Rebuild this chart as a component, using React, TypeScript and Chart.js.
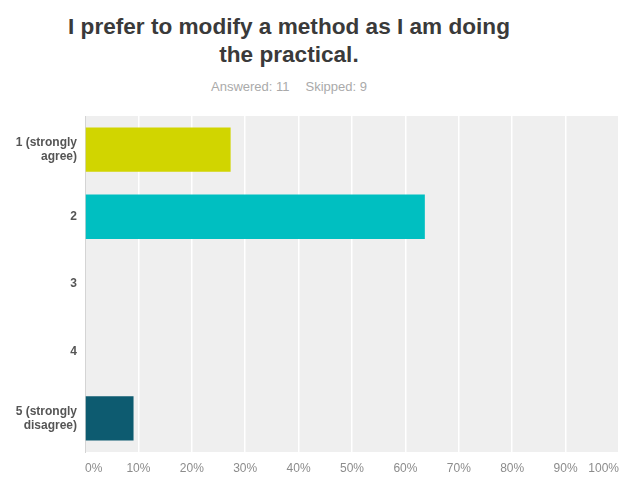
import React, { useEffect, useRef } from 'react';
import { Chart, registerables } from 'chart.js';

Chart.register(...registerables);

const titleLines = ['I prefer to modify a method as I am doing', 'the practical.'];
const answeredText = 'Answered: 11';
const skippedText = 'Skipped: 9';

const categories: (string | string[])[] = [
  ['1 (strongly', 'agree)'],
  '2',
  '3',
  '4',
  ['5 (strongly', 'disagree)'],
];
const percentages = [27.27, 63.64, 0, 0, 9.09];
const barColors = ['#d1d500', '#00bfc1', '#f7a600', '#6b9a2b', '#0d5b70'];
const xTickValues = [0, 10, 20, 30, 40, 50, 60, 70, 80, 90, 100];

const FONT = '"Liberation Sans", Arial, Helvetica, sans-serif';

const plotBackground = {
  id: 'plotBackground',
  beforeDraw(chart: any) {
    const { ctx, chartArea } = chart;
    if (!chartArea) return;
    ctx.save();
    ctx.fillStyle = '#efefef';
    ctx.fillRect(chartArea.left, chartArea.top, chartArea.right - chartArea.left, chartArea.bottom - chartArea.top);
    ctx.restore();
  },
};

export default function App() {
  const canvasRef = useRef<HTMLCanvasElement | null>(null);

  useEffect(() => {
    if (!canvasRef.current) return;
    const chart = new Chart(canvasRef.current, {
      type: 'bar',
      data: {
        labels: categories,
        datasets: [
          {
            data: percentages,
            backgroundColor: barColors,
            borderWidth: 0,
            barPercentage: 0.66,
            categoryPercentage: 1,
          },
        ],
      },
      options: {
        indexAxis: 'y',
        responsive: false,
        animation: false,
        events: [],
        layout: { padding: { top: 116, bottom: 0, left: 0, right: 0 } },
        plugins: {
          legend: { display: false },
          tooltip: { enabled: false },
          title: { display: false },
        },
        scales: {
          x: {
            min: 0,
            max: 100,
            afterBuildTicks: (scale: any) => {
              scale.ticks = xTickValues.map((v) => ({ value: v }));
            },
            afterFit: (scale: any) => {
              scale.height = 25;
              scale.paddingLeft = 0;
              scale.paddingRight = 0;
            },
            ticks: {
              align: 'inner',
              color: '#8c8c8c',
              padding: 9,
              font: { family: FONT, size: 12 },
              callback: (v: any) => v + '%',
            },
            grid: { color: '#ffffff', lineWidth: 1.5, drawTicks: false },
            border: { display: false },
          },
          y: {
            afterFit: (scale: any) => {
              scale.width = 85;
              scale.paddingTop = 0;
              scale.paddingBottom = 0;
            },
            ticks: {
              color: '#555555',
              padding: 8,
              font: { family: FONT, size: 12, weight: 'bold', lineHeight: 1.17 },
            },
            grid: { display: false, drawTicks: false },
            border: { display: true, color: '#d4d4d4', width: 1 },
          },
        },
      } as any,
      plugins: [plotBackground],
    });
    return () => chart.destroy();
  }, []);

  return (
    <div style={{ position: 'absolute', left: 0, top: 0, width: 619, height: 477, background: '#ffffff', overflow: 'hidden' }}>
      <div
        style={{
          position: 'absolute',
          left: 0,
          top: 13,
          width: 578,
          textAlign: 'center',
          fontFamily: FONT,
          fontWeight: 'bold',
          fontSize: 22.6,
          lineHeight: '28px',
          color: '#3a3a3a',
        }}
      >
        {titleLines.map((l, i) => (
          <div key={i}>{l}</div>
        ))}
      </div>
      <div
        style={{
          position: 'absolute',
          left: 0,
          top: 79,
          width: 578,
          textAlign: 'center',
          fontFamily: FONT,
          fontSize: 13,
          lineHeight: '16px',
          color: '#aaaaaa',
        }}
      >
        <span>{answeredText}</span>
        <span style={{ marginLeft: 16 }}>{skippedText}</span>
      </div>
      <canvas ref={canvasRef} width={619} height={477} style={{ position: 'absolute', left: 0, top: 0 }} />
    </div>
  );
}
